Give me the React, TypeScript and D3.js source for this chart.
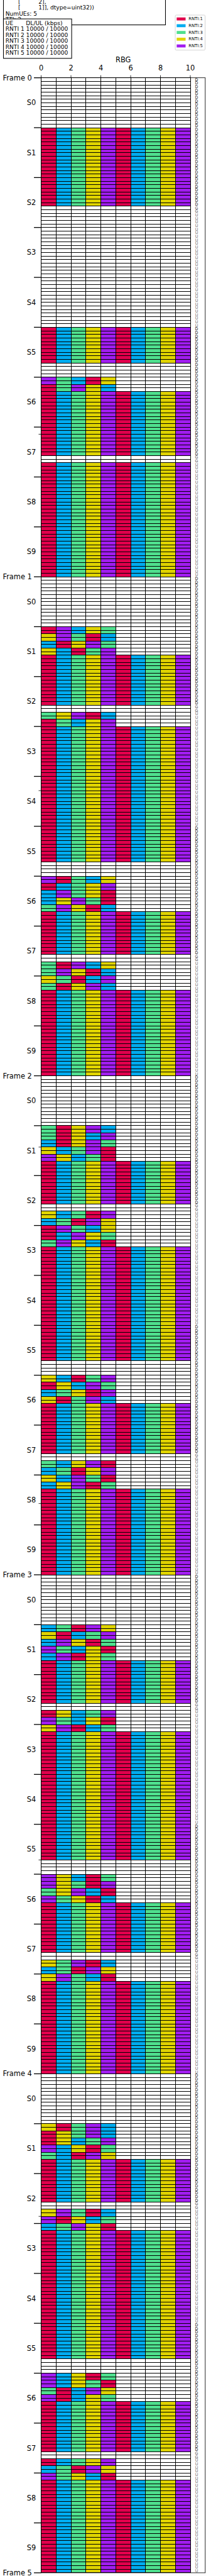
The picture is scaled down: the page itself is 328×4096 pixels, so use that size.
import React from 'react';
import * as d3 from 'd3';

// colours per RNTI (index 0 -> RNTI 1)
const rntiColors = ['#e1004c', '#00acf0', '#4fe08e', '#e0d400', '#a11df0'];
const rntiNames = ['RNTI:1', 'RNTI:2', 'RNTI:3', 'RNTI:4', 'RNTI:5'];
const xTickValues = [0, 2, 4, 6, 8, 10];

// TDD pattern per frame and symbol direction per slot type
const slotTypes = ['D', 'D', 'S', 'U', 'U', 'D', 'D', 'S', 'U', 'U'];
const slotSymbols: Record<string, string> = {
  D: 'DDDDDDDDDDDDDD',
  S: 'DDDDDDDDGGUUUU',
  U: 'UUUUUUUUUUUUUU',
};

// allocation per subframe: "token*count", token = F (full row 1234512345), - (empty), or 5 RNTIs on RBG 0..4
const frame0 = [
  '-*14',
  'F*14',
  'F*8 -*6',
  '-*14',
  '-*14',
  'F*10 -*4',
  '53214*2 13542*2 F*10',
  'F*8 -*2 F*4',
  'F*14',
  'F*14',
];
const frame1 = [
  '-*14',
  '15243*2 45312*2 21453*2 42135*2 F*6',
  'F*8 -*2 34512*2 13245*2',
  'F*14',
  'F*14',
  'F*10 -*4',
  '51324*2 12345*2 25341*2 24531*2 35412*2 F*4',
  'F*8 -*2 31524*2 35412*2',
  '43125*2 31452*2 F*10',
  'F*14',
];
const frame2 = [
  '-*14',
  '31452*2 31425*2 21453*2 42351*2 54231*2 F*4',
  'F*8 -*2 42315*2 23154*2',
  '15324*2 12543*2 35421*2 F*8',
  'F*14',
  'F*10 -*4',
  '42135*2 14253*2 23415*2 41352*2 F*6',
  'F*8 -*2 32451*2 23145*2',
  '42531*2 24513*2 F*10',
  'F*14',
];
const frame3 = [
  '-*14',
  '23154*2 41235*2 25413*2 53241*2 25143*2 F*4',
  'F*8 -*2 14235*2 53241*2',
  '45123*2 F*12',
  'F*14',
  'F*10 -*4',
  '54213*2 54315*2 34521*2 53412*2 F*6',
  'F*8 -*2 43512*2 23154*2',
  '45321*2 F*12',
  'F*14',
];
const frame4 = [
  '-*14',
  '41352*2 14352*2 14235*2 52413*2 32154*2 F*4',
  'F*8 -*2 45312*2 51423*2',
  '23541*2 F*12',
  'F*14',
  'F*10 -*4',
  '52413*2 52431*2 31254*2 51243*2 F*6',
  'F*8 -*2 12345*2 23154*2',
  '53421*2 F*12',
  'F*14',
];
const frames = [frame0, frame1, frame2, frame3, frame4];

const infoLines = [
  '       [          2],',
  '       [          1]], dtype=uint32))',
  'NumUEs: 5',
  'TTI: 2',
];
const rateHeader = 'UE       DL/UL (kbps)';
const rateLines = [
  'RNTI 1 10000 / 10000',
  'RNTI 2 10000 / 10000',
  'RNTI 3 10000 / 10000',
  'RNTI 4 10000 / 10000',
  'RNTI 5 10000 / 10000',
];

const ROWS_SF = 14;
const SF_FRAME = 10;

function expand(sf: string): string[] {
  const rows: string[] = [];
  sf.split(' ').forEach((part) => {
    const [tok, n] = part.split('*');
    let code = '..........';
    if (tok === 'F') code = '1234512345';
    else if (tok !== '-') code = tok + '.....';
    for (let i = 0; i < +n; i++) rows.push(code);
  });
  return rows;
}

const allRows: string[] = frames.flatMap((f) => f.flatMap(expand));
const dirs: string[] = frames.flatMap(() => slotTypes.flatMap((t) => slotSymbols[t].split('')));
const nRows = allRows.length;

const font = 'DejaVu Sans';

export default function App() {
  const x = d3.scaleLinear().domain([0, 11]).range([80, 399]);
  const y = d3.scaleLinear().domain([0, nRows]).range([151, 4995]);
  const color = (c: string) => (c === '.' ? '#ffffff' : rntiColors[+c - 1]);

  const sfCount = frames.length * SF_FRAME;

  return (
    <svg
      width={328}
      height={4096}
      style={{ position: 'absolute', left: 0, top: 0, background: '#fff' }}
      fontFamily={font}
    >
      <g transform="scale(0.819)">
        {/* grid cells */}
        <g shapeRendering="crispEdges">
          {allRows.map((row, r) =>
            row.split('').map((c, k) => (
              <rect
                key={r * 10 + k}
                x={x(k)}
                y={y(r)}
                width={x(k + 1) - x(k)}
                height={y(r + 1) - y(r)}
                fill={color(c)}
                stroke="#000"
                strokeWidth={1.2}
              />
            ))
          )}
        </g>
        {/* symbol direction letters */}
        {dirs.map((d, r) => (
          <text
            key={'d' + r}
            x={x(10.42)}
            y={(y(r) + y(r + 1)) / 2}
            fontSize={7.8}
            textAnchor="middle"
            dominantBaseline="central"
            fill={d === 'D' ? '#111' : d === 'G' ? '#444' : '#666'}
          >
            {d}
          </text>
        ))}
        {/* spines */}
        <rect x={x(0)} y={y(0)} width={x(11) - x(0)} height={y(nRows) - y(0)} fill="none" stroke="#000" strokeWidth={1} />
        {/* x axis on top */}
        {xTickValues.map((v) => (
          <g key={'xt' + v}>
            <line x1={x(v)} x2={x(v)} y1={y(0) - 4.9} y2={y(0)} stroke="#000" strokeWidth={1} />
            <text x={x(v)} y={136.7} fontSize={13.9} textAnchor="middle">
              {v}
            </text>
          </g>
        ))}
        <text x={(x(0) + x(11)) / 2} y={120.7} fontSize={13.9} textAnchor="middle">
          RBG
        </text>
        {/* y ticks at subframe boundaries */}
        {d3.range(sfCount + 1).map((i) => (
          <line
            key={'yt' + i}
            x1={x(0) - 14}
            x2={x(0)}
            y1={y(i * ROWS_SF)}
            y2={y(i * ROWS_SF)}
            stroke="#000"
            strokeWidth={1.6}
          />
        ))}
        {d3.range(100, nRows, 100).map((v) => (
          <line key={'mt' + v} x1={x(0) - 4.9} x2={x(0)} y1={y(v)} y2={y(v)} stroke="#000" strokeWidth={1} />
        ))}
        {d3.range(frames.length + 1).map((f) => (
          <text
            key={'fl' + f}
            x={62}
            y={y(f * ROWS_SF * SF_FRAME)}
            fontSize={13.9}
            textAnchor="end"
            dominantBaseline="central"
          >
            {'Frame ' + f}
          </text>
        ))}
        {d3.range(sfCount).map((i) => (
          <text
            key={'sl' + i}
            x={70}
            y={y(i * ROWS_SF + ROWS_SF / 2)}
            fontSize={13.9}
            textAnchor="end"
            dominantBaseline="central"
          >
            {'S' + (i % SF_FRAME)}
          </text>
        ))}
        {/* info box */}
        <rect x={6.7} y={-10} width={315} height={58.3} fill="#fff" stroke="#000" strokeWidth={1.3} />
        {infoLines.map((t, i) => (
          <text key={'il' + i} x={10.7} y={6.7 + i * 11.67} fontSize={11.1} style={{ whiteSpace: 'pre' }}>
            {t}
          </text>
        ))}
        <rect x={6.7} y={36.7} width={132.6} height={76.6} fill="#fff" stroke="#000" strokeWidth={1.3} />
        <text x={10.7} y={48.3} fontSize={11.1} style={{ whiteSpace: 'pre' }}>
          {rateHeader}
        </text>
        {rateLines.map((t, i) => (
          <text key={'rl' + i} x={10.7} y={60 + i * 11.67} fontSize={11.1} style={{ whiteSpace: 'pre' }}>
            {t}
          </text>
        ))}
        {/* legend */}
        <rect x={340.7} y={29.3} width={58} height={68} rx={2} fill="#fff" fillOpacity={0.8} stroke="#ccc" strokeWidth={1} />
        {rntiNames.map((n, i) => (
          <g key={'lg' + i}>
            <rect x={343.5} y={36.8 + i * 13.1 - 2.9} width={17.3} height={5.8} fill={rntiColors[i]} />
            <text x={366.7} y={36.8 + i * 13.1} fontSize={8.3} dominantBaseline="central">
              {n}
            </text>
          </g>
        ))}
      </g>
    </svg>
  );
}
